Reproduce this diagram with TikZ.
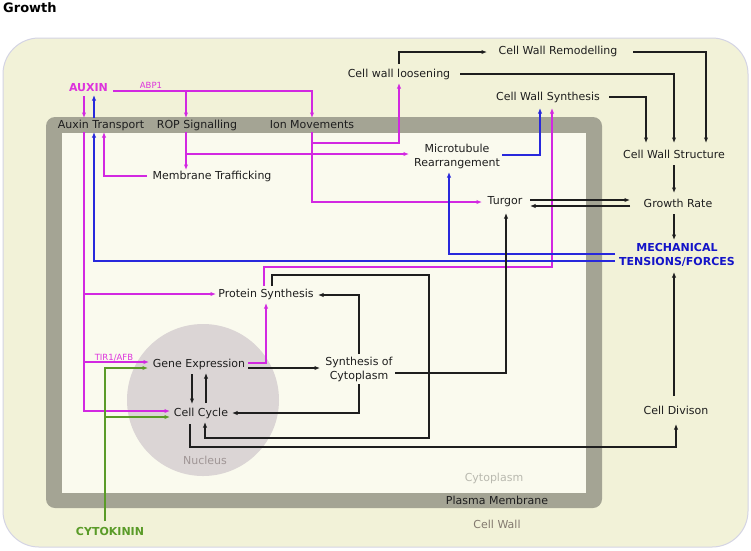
\documentclass[tikz,border=0pt]{standalone}
\usepackage{fontspec}
\setmainfont{DejaVu Sans}
\usetikzlibrary{arrows.meta,calc}
\definecolor{mag}{RGB}{210,40,225}
\definecolor{magtxt}{RGB}{221,51,221}
\definecolor{bl}{RGB}{40,40,220}
\definecolor{bltxt}{RGB}{20,20,200}
\definecolor{gr}{RGB}{90,155,40}
\definecolor{blk}{RGB}{30,30,30}
\definecolor{wallfill}{RGB}{242,242,216}
\definecolor{wallborder}{RGB}{212,212,228}
\definecolor{membrane}{RGB}{164,164,148}
\definecolor{cytofill}{RGB}{250,250,238}
\definecolor{nucfill}{RGB}{219,213,213}
\definecolor{cytotxt}{RGB}{185,185,175}
\definecolor{nuctxt}{RGB}{160,150,150}
\definecolor{walltxt}{RGB}{130,120,110}
\begin{document}
\begin{tikzpicture}[x=1pt,y=-1pt,
  lbl/.style={font=\fontsize{11}{14}\selectfont, inner sep=1pt, align=center, text=blk},
  small/.style={font=\fontsize{8.5}{10}\selectfont, inner sep=1pt, text=magtxt},
  hormone/.style={font=\fontsize{11}{14}\selectfont\bfseries, inner sep=1pt, align=center},
  arr/.style={-{Latex[length=5.5pt,width=4.4pt]}},
  conn/.style={line width=1.1pt, arr},
  magc/.style={conn, draw=mag},
  bluec/.style={conn, draw=bl},
  greenc/.style={conn, draw=gr},
  blackc/.style={conn, draw=blk}]
\useasboundingbox (0,0) rectangle (751,550);
\fill[white] (0,0) rectangle (751,550);
% compartments
\filldraw[fill=wallfill, draw=wallborder, line width=1pt, rounded corners=36pt] (3,38) rectangle (748,547);
\fill[membrane, rounded corners=9pt] (46,117) rectangle (602,508);
\fill[cytofill] (62,133) rectangle (586,493);
\fill[nucfill] (203,400) circle (76);
% compartment labels
\node[font=\fontsize{13}{15}\selectfont\bfseries, anchor=west, inner sep=0pt] (title) at (3,8) {Growth};
\node[lbl, text=nuctxt] (nuc) at (205,460) {Nucleus};
\node[lbl, text=cytotxt] (cytl) at (494,478) {Cytoplasm};
\node[lbl] (pml) at (497,500) {Plasma Membrane};
\node[lbl, text=walltxt] (cwlab) at (497,524) {Cell Wall};
% nodes
\node[hormone, text=magtxt] (auxin) at (88.5,88) {AUXIN};
\node[small] (abp) at (151,85) {ABP1};
\node[lbl] (at) at (101,125) {Auxin Transport};
\node[lbl] (rop) at (197,125) {ROP Signalling};
\node[lbl] (ion) at (312,125) {Ion Movements};
\node[lbl] (mt) at (212,176) {Membrane Trafficking};
\node[lbl] (cwl) at (399,74) {Cell wall loosening};
\node[lbl] (cwr) at (558,51) {Cell Wall Remodelling};
\node[lbl] (cws) at (548,97) {Cell Wall Synthesis};
\node[lbl] (cwst) at (674,154) {Cell Wall Structure};
\node[lbl] (micro) at (457,156) {Microtubule\\Rearrangement};
\node[lbl] (turgor) at (505,202) {Turgor};
\node[lbl] (grate) at (678,203) {Growth Rate};
\node[hormone, text=bltxt] (mech) at (677,255) {MECHANICAL\\TENSIONS/FORCES};
\node[lbl] (ps) at (266,294) {Protein Synthesis};
\node[lbl] (ge) at (199,364) {Gene Expression};
\node[lbl] (soc) at (359,369) {Synthesis of\\Cytoplasm};
\node[lbl] (cc) at (201,413) {Cell Cycle};
\node[lbl] (cd) at (676,410) {Cell Divison};
\node[small] (tir) at (114,358) {TIR1/AFB};
\node[hormone, text=gr] (cyto) at (110,531) {CYTOKININ};
% magenta connectors
\draw[magc] ($(auxin)+(-4.5,8)$) -- ($(at)+(-17,-7)$);
\draw[magc] ($(auxin)+(24.5,3)$) -| ($(ion)+(0,-7)$);
\draw[magc] ($(rop)+(-11,-34)$) -- ($(rop)+(-11,-7)$);
\draw[magc] ($(at)+(-17,7)$) |- ($(cc)+(-31,-2)$);
\draw[magc] ($(ps)+(-182,0)$) -- ($(ps)+(-50,0)$);
\draw[magc] ($(ge)+(-115,-2)$) -- ($(ge)+(-50,-2)$);
\draw[magc] ($(ps)+(-2,-8)$) |- ($(cws)+(4,170)$) -- ($(cws)+(4,11)$);
\draw[magc] ($(ge)+(49,-1)$) -| ($(ps)+(0,9)$);
\draw[magc] ($(ion)+(0,7)$) |- ($(turgor)+(-23,0)$);
\draw[magc] ($(ion)+(0,18)$) -| ($(cwl)+(0,9)$);
\draw[magc] ($(rop)+(-11,7)$) -- ($(mt)+(-26,-6)$);
\draw[magc] ($(rop)+(-11,29)$) -- ($(micro)+(-48,-2)$);
\draw[magc] ($(mt)+(-65,0)$) -| ($(at)+(3,7)$);
% blue connectors
\draw[bluec] ($(at)+(-7,-7)$) -- ($(auxin)+(5.5,7)$);
\draw[bluec] ($(mech)+(-62,6)$) -| ($(at)+(-7,7)$);
\draw[bluec] ($(mech)+(-62,-1)$) -| ($(micro)+(-8,16)$);
\draw[bluec] ($(micro)+(45,-1)$) -| ($(cws)+(-8,11)$);
% black connectors
\draw[blackc] ($(ge)+(49,4)$) -- ($(soc)+(-39,-1)$);
\draw[blackc] ($(cwl)+(0,-10)$) |- ($(cwr)+(-71,1)$);
\draw[blackc] ($(cwr)+(75,1)$) -| ($(cwst)+(32,-11)$);
\draw[blackc] ($(cwl)+(61,0)$) -| ($(cwst)+(0,-11)$);
\draw[blackc] ($(cws)+(61,0)$) -| ($(cwst)+(-28,-11)$);
\draw[blackc] ($(cwst)+(0,11)$) -- ($(grate)+(-4,-10)$);
\draw[blackc] ($(turgor)+(25,-2)$) -- ($(grate)+(-48,-3)$);
\draw[blackc] ($(grate)+(-48,3)$) -- ($(turgor)+(25,4)$);
\draw[blackc] ($(grate)+(-4,11)$) -- ($(mech)+(-3,-15)$);
\draw[blackc] ($(cd)+(-2,-14)$) -- ($(mech)+(-3,17)$);
\draw[blackc] ($(cc)+(-11,11)$) |- ($(cd)+(0,37)$) -- ($(cd)+(0,14)$);
\draw[blackc] ($(ps)+(6,-8)$) |- ($(soc)+(70,-94)$) |- ($(cc)+(4,25)$) -- ($(cc)+(4,9)$);
\draw[blackc] ($(soc)+(0,-15)$) |- ($(ps)+(52,1)$);
\draw[blackc] ($(soc)+(0,15)$) |- ($(cc)+(31,0)$);
\draw[blackc] ($(soc)+(36,4)$) -| ($(turgor)+(1,11)$);
\draw[blackc] ($(ge)+(-7,10)$) -- ($(cc)+(-9,-9)$);
\draw[blackc] ($(cc)+(5,-10)$) -- ($(ge)+(7,9)$);
% green connectors
\draw[greenc] ($(cyto)+(-5,-10)$) |- ($(ge)+(-51,4)$);
\draw[greenc] ($(cyto)+(-5,-114)$) -- ($(cc)+(-31,4)$);
\end{tikzpicture}
\end{document}
